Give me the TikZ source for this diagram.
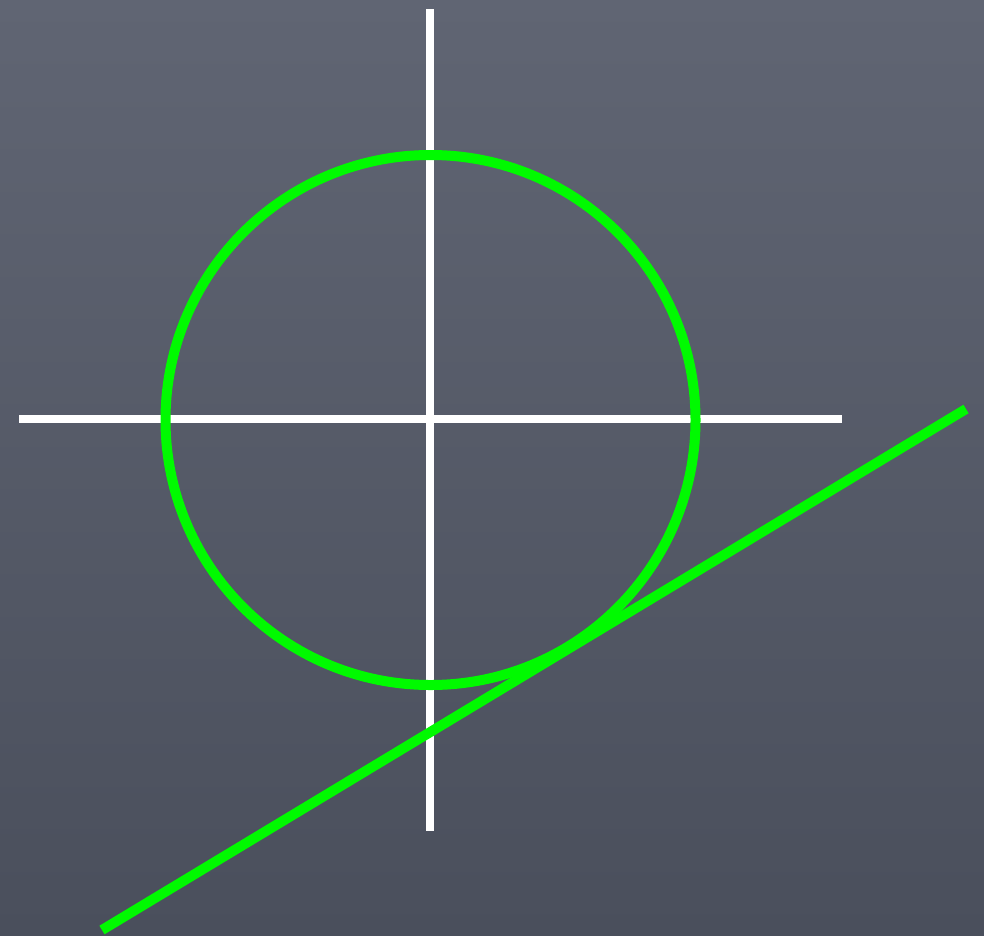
\documentclass[tikz,border=0pt]{standalone}
\begin{document}
\begin{tikzpicture}[x=1pt,y=-1pt,
  axis/.style={draw=white,line width=8pt},
  greenline/.style={draw=chalkgreen,line width=10pt}]
\definecolor{chalkgreen}{RGB}{0,250,0}
\definecolor{boardtop}{RGB}{96,101,115}
\definecolor{boardbot}{RGB}{74,79,92}
\useasboundingbox (0,0) rectangle (984,935);
\shade[top color=boardtop,bottom color=boardbot] (0,0) rectangle (984,935);
\coordinate (vt) at (430,9);
\coordinate (vb) at (430,831);
\coordinate (hl) at (19,419);
\coordinate (hr) at (842,419);
\coordinate (c) at (430.5,420);
\coordinate (ta) at (102,930);
\coordinate (tb) at (966,409);
\draw[axis] (vt) -- (vb);
\draw[axis] (hl) -- (hr);
\draw[greenline] (c) circle[radius=265];
\draw[greenline] (ta) -- (tb);
\end{tikzpicture}
\end{document}
